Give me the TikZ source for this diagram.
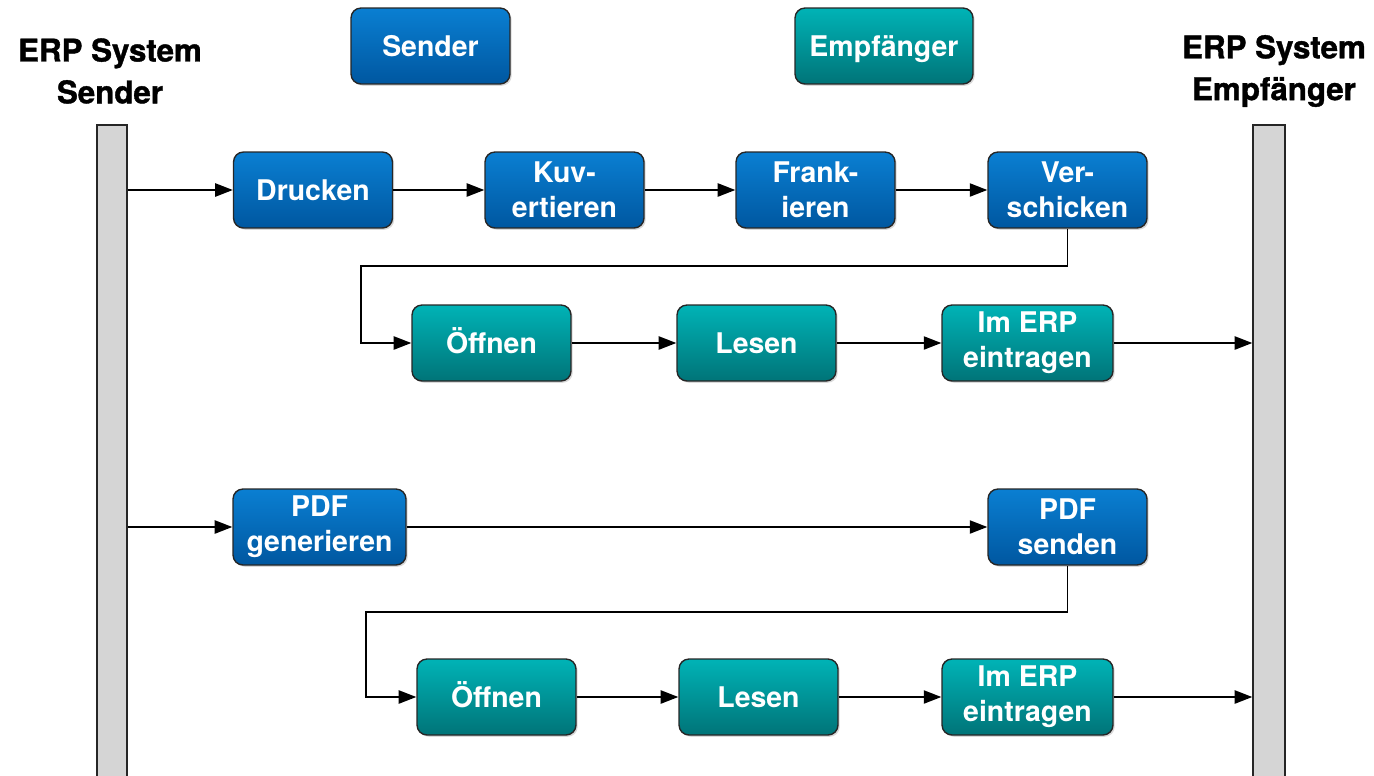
\documentclass[tikz,border=0pt]{standalone}
\usepackage{fontspec}
\setmainfont{TeX Gyre Heros}
\newfontfamily\titlefont{TeX Gyre Heros}[BoldFeatures={FakeBold=1.2}]
\usepackage{tikz}
\usetikzlibrary{shadows}
\usetikzlibrary{positioning}
\usetikzlibrary{arrows.meta,shapes}
\usetikzlibrary{calc}

\definecolor{sendtop}{HTML}{0A7FD2}
\definecolor{sendbot}{HTML}{0057A0}
\definecolor{recvtop}{HTML}{00B3B6}
\definecolor{recvbot}{HTML}{007478}
\definecolor{bargray}{HTML}{D5D5D5}

\tikzset{
  box/.style={rounded corners=0.2cm, draw=black!85, line width=0.8pt,
    minimum width=3.18cm, minimum height=1.52cm, inner sep=2pt,
    align=center, text=white, font=\bfseries\fontsize{16.2pt}{19.8pt}\selectfont,
    drop shadow={shadow xshift=1pt, shadow yshift=-1pt, opacity=0.3}},
  sendbox/.style={box, top color=sendtop, bottom color=sendbot},
  recvbox/.style={box, top color=recvtop, bottom color=recvbot},
  oneline/.style={text height=11.7pt, text depth=0pt},
  erpbar/.style={draw=black!85, fill=bargray, line width=0.8pt,
    minimum height=13.06cm, inner sep=0pt},
  flow/.style={-{Triangle[length=10pt,width=7.5pt]}, line width=1pt},
  title/.style={align=center, font=\titlefont\bfseries\fontsize{17.8pt}{23.8pt}\selectfont}
}

\begin{document}
\begin{tikzpicture}[x=0.02cm, y=-0.02cm]
 \useasboundingbox (0,0) rectangle (1374,775);

 %titles and legend
 \node[title] (titleS) at (110,71) {ERP System\\Sender};
 \node[title] (titleE) at (1274,71) {ERP System\\Empfänger};
 \node[sendbox, oneline] (legS) at (430.5,46) {Sender};
 \node[recvbox, oneline, minimum width=3.56cm] (legE) at (884,46) {Empfänger};

 %bars
 \node[erpbar, minimum width=0.6cm] (erpS) at (112,451.5) {};
 \node[erpbar, minimum width=0.64cm] (erpE) at (1269,451.5) {};

 %level 1 (Brief)
 \node[sendbox, oneline] (drucken) at (313,190) {Drucken};
 \foreach \x/\name/\txt in {564.5/kuvert/{Kuv-\\ertieren},
     815.5/frank/{Frank-\\ieren}, 1067.5/versch/{Ver-\\schicken}} {
   \node[sendbox] (\name) at (\x,190) {\txt};
 }

 %level 2
 \foreach \x/\name/\txt in {491.5/oeffA/Öffnen, 756.5/lesenA/Lesen} {
   \node[recvbox, oneline] (\name) at (\x,343) {\txt};
 }
 \node[recvbox, minimum width=3.42cm] (eintrA) at (1027.5,343) {Im ERP\\eintragen};

 %level 3 (PDF)
 \node[sendbox, minimum width=3.46cm] (pdfgen) at (319.5,527) {PDF\\generieren};
 \node[sendbox] (pdfsend) at (1067.5,527) {PDF\\senden};

 %level 4
 \foreach \x/\name/\txt in {496.5/oeffB/Öffnen, 758.5/lesenB/Lesen} {
   \node[recvbox, oneline] (\name) at (\x,697) {\txt};
 }
 \node[recvbox, minimum width=3.42cm] (eintrB) at (1027.5,697) {Im ERP\\eintragen};

 %bends
 \coordinate (kA) at (361,266);
 \coordinate (kB) at (366,612);

 %arrows
 \draw[flow] (erpS.east |- drucken.west) -- (drucken.west);
 \draw[flow] (drucken) -- (kuvert);
 \draw[flow] (kuvert) -- (frank);
 \draw[flow] (frank) -- (versch);
 \draw[flow] (versch.south) |- (kA) |- (oeffA.west);
 \draw[flow] (oeffA) -- (lesenA);
 \draw[flow] (lesenA) -- (eintrA);
 \draw[flow] (eintrA.east) -- (erpE.west |- eintrA.east);

 \draw[flow] (erpS.east |- pdfgen.west) -- (pdfgen.west);
 \draw[flow] (pdfgen) -- (pdfsend);
 \draw[flow] (pdfsend.south) |- (kB) |- (oeffB.west);
 \draw[flow] (oeffB) -- (lesenB);
 \draw[flow] (lesenB) -- (eintrB);
 \draw[flow] (eintrB.east) -- (erpE.west |- eintrB.east);

\end{tikzpicture}
\end{document}
